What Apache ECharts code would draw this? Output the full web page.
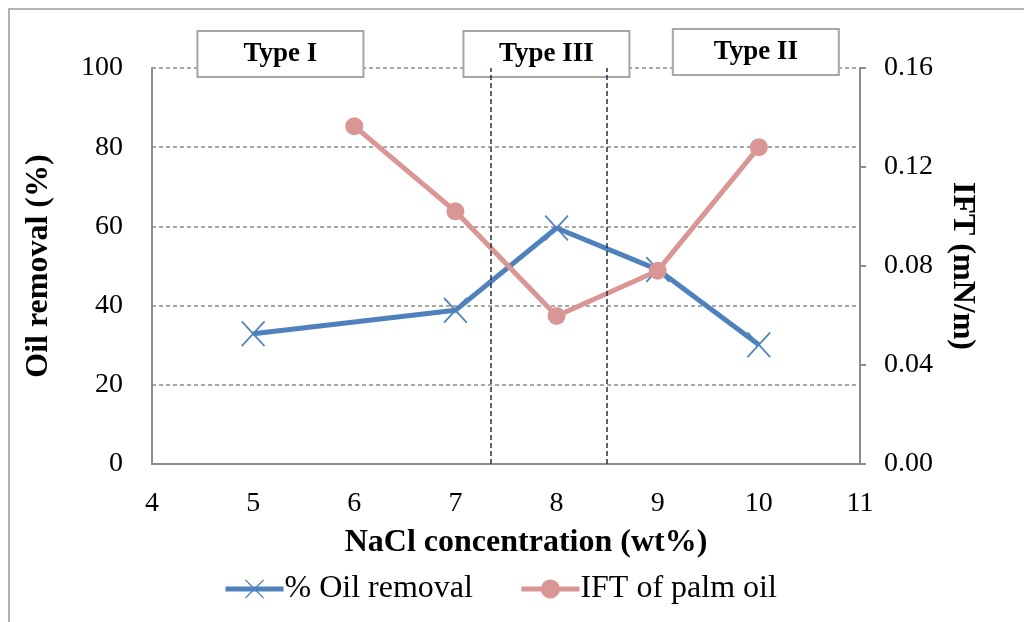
<!DOCTYPE html>
<html>
<head>
<meta charset="utf-8">
<script src="https://cdn.jsdelivr.net/npm/echarts@6/dist/echarts.min.js"></script>
<style>html,body{margin:0;padding:0;background:#fff;}#c{width:1024px;height:622px;}</style>
</head>
<body>
<div id="c"></div>
<script>
const xTicks = [4, 5, 6, 7, 8, 9, 10, 11];
const oilX = [5, 7, 8, 9, 10];
const oilRemoval = [32.9, 38.8, 59.6, 49.1, 30.1];
const iftX = [6, 7, 8, 9, 10];
const iftPalm = [0.1365, 0.1021, 0.0598, 0.0781, 0.128];
const phaseBounds = [7.35, 8.5];
const typeLabels = ['Type I', 'Type III', 'Type II'];
const typeCenters = [5.27, 7.9, 9.97];

const FONT = '"Liberation Serif", "Times New Roman", serif';
const X_PATH = 'path://M0,5 L5,0 L50,45 L95,0 L100,5 L55,50 L100,95 L95,100 L50,55 L5,100 L0,95 L45,50 Z';

const chart = echarts.init(document.getElementById('c'));
chart.setOption({
  animation: false,
  backgroundColor: '#fff',
  grid: { left: 152, right: 164, top: 68, bottom: 158 },
  xAxis: {
    type: 'value', min: xTicks[0], max: xTicks[xTicks.length - 1], interval: 1,
    name: 'NaCl concentration (wt%)', nameLocation: 'middle', nameGap: 63,
    nameTextStyle: { fontFamily: FONT, fontSize: 32, fontWeight: 'bold', color: '#000',
      padding: [0, 0, 0, 40] },
    axisLine: { lineStyle: { color: '#8c8c8c', width: 2 } },
    axisTick: { show: false },
    splitLine: { show: false },
    axisLabel: { fontFamily: FONT, fontSize: 28, color: '#000', margin: 26 }
  },
  yAxis: [
    {
      type: 'value', min: 0, max: 100, interval: 20,
      name: 'Oil removal (%)', nameLocation: 'middle', nameGap: 97, nameRotate: 90,
      nameTextStyle: { fontFamily: FONT, fontSize: 32, fontWeight: 'bold', color: '#000' },
      axisLine: { show: true, lineStyle: { color: '#8c8c8c', width: 2 } },
      axisTick: { show: false },
      splitLine: { show: true, lineStyle: { color: '#8c8c8c', width: 1.5, type: [4, 3] } },
      axisLabel: { fontFamily: FONT, fontSize: 28, color: '#000', margin: 29 }
    },
    {
      type: 'value', min: 0, max: 0.16, interval: 0.04, position: 'right',
      name: 'IFT (mN/m)', nameLocation: 'middle', nameGap: 86, nameRotate: -90,
      nameTextStyle: { fontFamily: FONT, fontSize: 32, fontWeight: 'bold', color: '#000' },
      axisLine: { show: true, lineStyle: { color: '#8c8c8c', width: 2 } },
      axisTick: { show: true, length: 6, lineStyle: { color: '#8c8c8c', width: 2 } },
      splitLine: { show: false },
      axisLabel: { fontFamily: FONT, fontSize: 28, color: '#000', margin: 24,
        formatter: v => v.toFixed(2) }
    }
  ],
  legend: {
    left: 218, top: 568, itemWidth: 58, itemHeight: 24, itemGap: 46,
    textStyle: { fontFamily: FONT, fontSize: 32, color: '#000', padding: [0, 0, 0, -4] },
    data: [
      { name: '% Oil removal', lineStyle: { width: 5 } },
      { name: 'IFT of palm oil', lineStyle: { width: 5 } }
    ]
  },
  series: [
    {
      name: '% Oil removal', type: 'line', yAxisIndex: 0, z: 3,
      data: oilX.map((x, i) => [x, oilRemoval[i]]),
      symbol: X_PATH, symbolSize: [24, 26],
      lineStyle: { color: '#4f81bd', width: 5 },
      itemStyle: { color: '#4f81bd' },
      markLine: {
        silent: true, symbol: 'none', animation: false,
        label: { show: false },
        lineStyle: { color: '#1f3050', width: 1.5, type: [5, 3] },
        data: phaseBounds.map(v => ({ xAxis: v }))
      }
    },
    {
      name: 'IFT of palm oil', type: 'line', yAxisIndex: 1, z: 4,
      data: iftX.map((x, i) => [x, iftPalm[i]]),
      symbol: 'circle', symbolSize: 18,
      lineStyle: { color: '#d99694', width: 5 },
      itemStyle: { color: '#d99694' }
    }
  ]
});

const graphics = [{
  type: 'rect', silent: true, z: 100,
  shape: { x: 9, y: 9, width: 1100, height: 800 },
  style: { fill: 'none', stroke: '#b3b3b3', lineWidth: 2 }
}];
typeLabels.forEach((t, i) => {
  const p = chart.convertToPixel({ gridIndex: 0 }, [typeCenters[i], 100]);
  const w = 166, h = 46;
  const top = p[1] - 37 - (i === 2 ? 2 : 0);
  graphics.push({
    type: 'group', z: 100,
    children: [
      { type: 'rect', shape: { x: p[0] - w / 2, y: top, width: w, height: h },
        style: { fill: '#fff', stroke: '#a6a6a6', lineWidth: 2 } },
      { type: 'text', x: p[0], y: top + h / 2,
        style: { text: t, fontFamily: FONT, fontSize: 27, fontWeight: 'bold',
          fill: '#000', align: 'center', verticalAlign: 'middle' } }
    ]
  });
});
chart.setOption({ graphic: graphics });
</script>
</body>
</html>
